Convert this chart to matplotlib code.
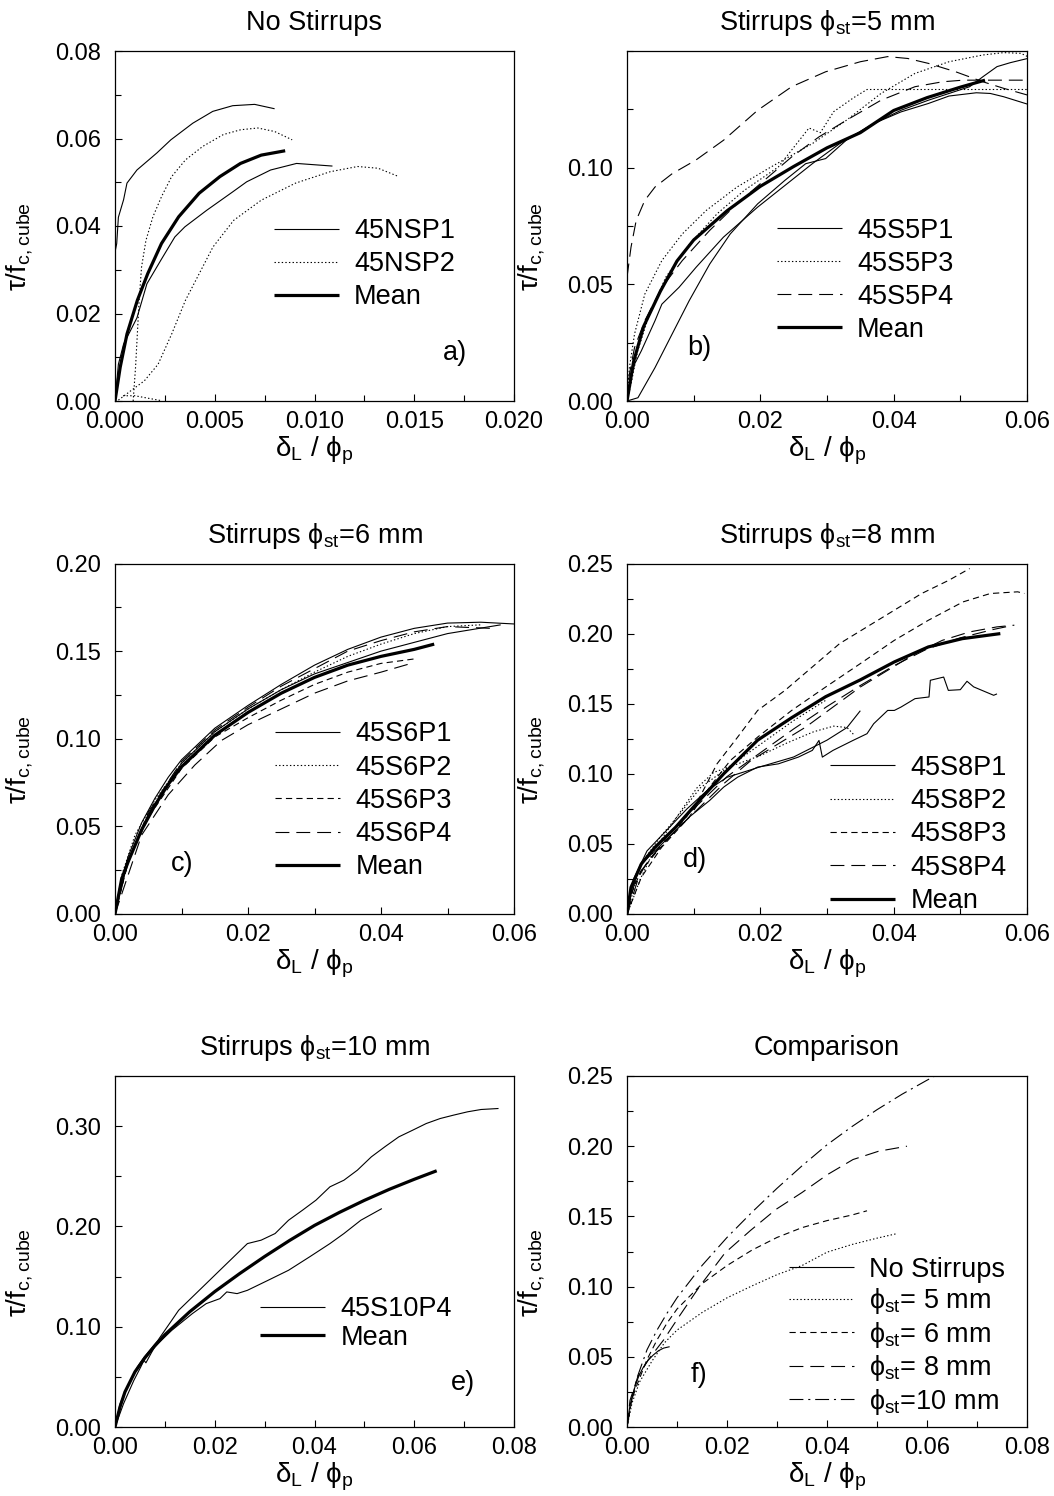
import matplotlib
matplotlib.use("Agg")
import matplotlib.pyplot as plt
from matplotlib.ticker import MultipleLocator, FormatStrFormatter, FixedLocator

plt.rcParams['font.family'] = ['Liberation Sans', 'DejaVu Sans']
plt.rcParams['lines.scale_dashes'] = False

# ---------------- Data ----------------
# a) No stirrups
a_p1a_x = [0.0, 0.000086, 0.00017, 0.00043, 0.0006, 0.0011, 0.0021, 0.0028, 0.0039, 0.0049, 0.0059, 0.0070, 0.0080]
a_p1a_y = [0.034, 0.036, 0.042, 0.046, 0.0498, 0.0528, 0.0567, 0.0597, 0.0635, 0.0662, 0.0675, 0.0678, 0.0668]
a_p1b_x = [0.0, 0.00017, 0.00043, 0.0011, 0.0016, 0.0023, 0.0030, 0.0035, 0.0046, 0.0059, 0.0066, 0.0078, 0.0091, 0.0109]
a_p1b_y = [0.0, 0.0084, 0.013, 0.019, 0.0268, 0.0322, 0.0375, 0.0398, 0.0436, 0.0478, 0.0501, 0.0528, 0.0543, 0.0537]
a_p2a_x = [0.00091, 0.00103, 0.00112, 0.00121, 0.00133, 0.00155, 0.0019, 0.00233, 0.00284, 0.00353, 0.0044, 0.00543, 0.0063, 0.00716, 0.0080, 0.00888]
a_p2a_y = [0.0, 0.0077, 0.0153, 0.0230, 0.0306, 0.0367, 0.0421, 0.0467, 0.0513, 0.0551, 0.0582, 0.0609, 0.0620, 0.0624, 0.0616, 0.0597]
a_p2b_x = [0.00017, 0.00078, 0.00147, 0.00216, 0.00284, 0.00353, 0.00422, 0.00491, 0.00595, 0.00733, 0.00905, 0.01078, 0.01216, 0.01319, 0.01422]
a_p2b_y = [0.0002, 0.0023, 0.0046, 0.0084, 0.0153, 0.0230, 0.0291, 0.0352, 0.0413, 0.0459, 0.0498, 0.0524, 0.0536, 0.0532, 0.0513]
a_p2c_x = [0.0004, 0.0010, 0.0017, 0.0023]
a_p2c_y = [0.0012, 0.0012, 0.0006, 0.0001]
a_mean_x = [0.0, 0.00026, 0.0006, 0.00112, 0.00164, 0.00233, 0.00319, 0.00422, 0.00526, 0.00629, 0.00733, 0.00853]
a_mean_y = [0.0, 0.0077, 0.0153, 0.0230, 0.0291, 0.0360, 0.0421, 0.0475, 0.0513, 0.0543, 0.0562, 0.0572]

# b) Stirrups 5 mm
b_p1a_x = [0, 0.00164, 0.0042, 0.00677, 0.00933, 0.01241, 0.01549, 0.0196, 0.0237, 0.0268, 0.0298, 0.0329, 0.0370, 0.0411, 0.0452, 0.0483, 0.0514, 0.0534, 0.0555, 0.0575, 0.0601]
b_p1a_y = [0, 0.0014, 0.0143, 0.0287, 0.0430, 0.0587, 0.0716, 0.0845, 0.0946, 0.1017, 0.1039, 0.1118, 0.1189, 0.1246, 0.1289, 0.1318, 0.1347, 0.1390, 0.1433, 0.1450, 0.1468]
b_p1b_x = [0, 0.00036, 0.00113, 0.00215, 0.0042, 0.00523, 0.0078, 0.01036, 0.01446, 0.0196, 0.0237, 0.0278, 0.0319, 0.0370, 0.0411, 0.0452, 0.0483, 0.0524, 0.0545, 0.0565, 0.0601]
b_p1b_y = [0, 0.0072, 0.0158, 0.0215, 0.0344, 0.0415, 0.0487, 0.0573, 0.0702, 0.0831, 0.0924, 0.1017, 0.1103, 0.1189, 0.1239, 0.1275, 0.1307, 0.1321, 0.1318, 0.1304, 0.1272]
b_p3a_x = [0, 0.00036, 0.00113, 0.00267, 0.00523, 0.0083, 0.0119, 0.0165, 0.0216, 0.0278, 0.0329, 0.0381, 0.0432, 0.0483, 0.0534, 0.0565, 0.0591, 0.0601]
b_p3a_y = [0, 0.0143, 0.0287, 0.0458, 0.0602, 0.0716, 0.0817, 0.0917, 0.1003, 0.1103, 0.1203, 0.1318, 0.1404, 0.1454, 0.1483, 0.1493, 0.1490, 0.1476]
b_p3b_x = [0, 0.0006, 0.0016, 0.0032, 0.0058, 0.0094, 0.0135, 0.0176, 0.0227, 0.0273, 0.0290, 0.0310, 0.0340, 0.0360, 0.0450, 0.0601]
b_p3b_y = [0, 0.0072, 0.0215, 0.0358, 0.0530, 0.0673, 0.0802, 0.0903, 0.1003, 0.1170, 0.1150, 0.1240, 0.1300, 0.1335, 0.1335, 0.1335]
b_p4a_x = [0, 0.0006, 0.00138, 0.00267, 0.0042, 0.00677, 0.0103, 0.0145, 0.0196, 0.0247, 0.0298, 0.0350, 0.0391, 0.0421, 0.0452, 0.0493, 0.0534, 0.0565, 0.0601]
b_p4a_y = [0.0530, 0.0659, 0.0774, 0.0860, 0.0917, 0.0974, 0.1032, 0.1118, 0.1246, 0.1347, 0.1411, 0.1454, 0.1476, 0.1468, 0.1447, 0.1411, 0.1368, 0.1340, 0.1311]
b_p4b_x = [0, 0.00036, 0.00113, 0.00267, 0.00523, 0.0083, 0.0124, 0.0165, 0.0206, 0.0247, 0.0288, 0.0329, 0.0381, 0.0432, 0.0473, 0.0504, 0.0601]
b_p4b_y = [0, 0.0115, 0.0229, 0.0344, 0.0487, 0.0602, 0.0731, 0.0845, 0.0946, 0.1046, 0.1132, 0.1203, 0.1289, 0.1347, 0.1368, 0.1375, 0.1375]
b_mean_x = [0, 0.001, 0.0025, 0.005, 0.0075, 0.010, 0.015, 0.020, 0.025, 0.030, 0.035, 0.040, 0.045, 0.050, 0.0537]
b_mean_y = [0, 0.017, 0.032, 0.047, 0.060, 0.069, 0.0815, 0.092, 0.1005, 0.1085, 0.1150, 0.1245, 0.1300, 0.1345, 0.1375]

# c) Stirrups 6 mm
c_p1a_x = [0, 0.001, 0.002, 0.004, 0.006, 0.008, 0.010, 0.015, 0.020, 0.025, 0.030, 0.035, 0.040, 0.045, 0.050, 0.055, 0.060]
c_p1a_y = [0, 0.020, 0.033, 0.052, 0.066, 0.078, 0.088, 0.106, 0.119, 0.131, 0.142, 0.151, 0.158, 0.163, 0.166, 0.1665, 0.1655]
c_p1b_x = [0, 0.002, 0.005, 0.010, 0.015, 0.020, 0.025, 0.030, 0.040, 0.050, 0.058]
c_p1b_y = [0, 0.031, 0.057, 0.086, 0.104, 0.117, 0.128, 0.137, 0.150, 0.160, 0.165]
c_p2_x = [0, 0.001, 0.003, 0.006, 0.010, 0.015, 0.020, 0.025, 0.030, 0.035, 0.040, 0.045, 0.050, 0.055]
c_p2_y = [0, 0.022, 0.045, 0.065, 0.086, 0.104, 0.117, 0.128, 0.138, 0.147, 0.154, 0.160, 0.164, 0.165]
c_p3_x = [0, 0.002, 0.005, 0.010, 0.015, 0.020, 0.025, 0.030, 0.035, 0.040, 0.0455]
c_p3_y = [0, 0.030, 0.055, 0.083, 0.101, 0.112, 0.122, 0.131, 0.138, 0.143, 0.1458]
c_p4a_x = [0, 0.002, 0.005, 0.010, 0.015, 0.020, 0.025, 0.030, 0.035, 0.040, 0.045, 0.050, 0.0565]
c_p4a_y = [0, 0.030, 0.058, 0.087, 0.105, 0.118, 0.130, 0.140, 0.150, 0.156, 0.161, 0.164, 0.163]
c_p4b_x = [0, 0.004, 0.008, 0.012, 0.016, 0.020, 0.025, 0.030, 0.035, 0.040, 0.045]
c_p4b_y = [0, 0.045, 0.068, 0.085, 0.099, 0.108, 0.117, 0.126, 0.133, 0.138, 0.1435]
c_mean_x = [0, 0.001, 0.002, 0.004, 0.006, 0.008, 0.010, 0.015, 0.020, 0.025, 0.030, 0.035, 0.040, 0.045, 0.048]
c_mean_y = [0, 0.020, 0.030, 0.048, 0.062, 0.074, 0.084, 0.102, 0.115, 0.126, 0.135, 0.142, 0.147, 0.151, 0.154]

# d) Stirrups 8 mm
d_p1a_x = [0, 0.0006, 0.00215, 0.0042, 0.0068, 0.0093, 0.0124, 0.0145, 0.0166, 0.0196, 0.0227, 0.0257, 0.0278, 0.0288, 0.0293, 0.0309, 0.0339, 0.0360, 0.0370, 0.0391, 0.0401, 0.0411, 0.0432, 0.0453, 0.0455, 0.0475, 0.0482, 0.0500, 0.0510, 0.0520, 0.0530, 0.0550, 0.0555]
d_p1a_y = [0, 0.0167, 0.0357, 0.0452, 0.0571, 0.0690, 0.0810, 0.0905, 0.0976, 0.1048, 0.1071, 0.1119, 0.1167, 0.1238, 0.1119, 0.1167, 0.1238, 0.1286, 0.1357, 0.1452, 0.1452, 0.1476, 0.1536, 0.1548, 0.1667, 0.1690, 0.1595, 0.1600, 0.1660, 0.1620, 0.1600, 0.1560, 0.1570]
d_p1b_x = [0, 0.001, 0.003, 0.006, 0.009, 0.012, 0.015, 0.020, 0.025, 0.030, 0.033, 0.035]
d_p1b_y = [0, 0.025, 0.045, 0.060, 0.075, 0.088, 0.0975, 0.105, 0.112, 0.124, 0.133, 0.145]
d_p2a_x = [0, 0.0006, 0.002, 0.004, 0.007, 0.0105, 0.013, 0.016, 0.020, 0.024, 0.028, 0.031, 0.033, 0.034]
d_p2a_y = [0, 0.007, 0.025, 0.045, 0.066, 0.090, 0.101, 0.106, 0.113, 0.122, 0.130, 0.134, 0.133, 0.128]
d_p2b_x = [0, 0.002, 0.005, 0.008, 0.011, 0.015, 0.020, 0.025, 0.030]
d_p2b_y = [0, 0.035, 0.055, 0.072, 0.090, 0.104, 0.121, 0.138, 0.153]
d_p3a_x = [0, 0.0006, 0.00215, 0.0042, 0.0073, 0.0104, 0.0135, 0.0166, 0.0196, 0.0237, 0.0278, 0.0319, 0.0360, 0.0401, 0.0442, 0.0483, 0.0514]
d_p3a_y = [0, 0.0143, 0.031, 0.0429, 0.0595, 0.0786, 0.1071, 0.1262, 0.1452, 0.1595, 0.1762, 0.1929, 0.2048, 0.2167, 0.2286, 0.2381, 0.2464]
d_p3b_x = [0, 0.00215, 0.0052, 0.0093, 0.0124, 0.0155, 0.0196, 0.0247, 0.0298, 0.0350, 0.0401, 0.0452, 0.0504, 0.0545, 0.0586, 0.0596]
d_p3b_y = [0, 0.0262, 0.0476, 0.0690, 0.0905, 0.1095, 0.1262, 0.1452, 0.1619, 0.1786, 0.1952, 0.2095, 0.2226, 0.2286, 0.2298, 0.2286]
d_p4a_x = [0, 0.0011, 0.0032, 0.0063, 0.0104, 0.0145, 0.0186, 0.0227, 0.0268, 0.0309, 0.0350, 0.0391, 0.0432, 0.0473, 0.0514, 0.0555, 0.0581]
d_p4a_y = [0, 0.0214, 0.0381, 0.0548, 0.0738, 0.0929, 0.1095, 0.1214, 0.1333, 0.1476, 0.1619, 0.1738, 0.1857, 0.1952, 0.2012, 0.2048, 0.2060]
d_p4b_x = [0, 0.002, 0.006, 0.010, 0.015, 0.020, 0.025, 0.030, 0.035, 0.040, 0.045, 0.050, 0.055, 0.057]
d_p4b_y = [0, 0.030, 0.055, 0.075, 0.098, 0.115, 0.132, 0.148, 0.163, 0.177, 0.189, 0.197, 0.203, 0.205]
d_mean_x = [0, 0.0006, 0.00215, 0.0042, 0.0073, 0.0104, 0.0145, 0.0196, 0.0247, 0.0298, 0.035, 0.0401, 0.0452, 0.0503, 0.0560]
d_mean_y = [0, 0.019, 0.0357, 0.0476, 0.0619, 0.0786, 0.1000, 0.124, 0.140, 0.155, 0.167, 0.1798, 0.1905, 0.1964, 0.2000]

# e) Stirrups 10 mm
e_p4a_x = [0, 0.00103, 0.00241, 0.00448, 0.00586, 0.00862, 0.01138, 0.01276, 0.01552, 0.01828, 0.02103, 0.02379, 0.02655, 0.0293, 0.0321, 0.0348, 0.0376, 0.0403, 0.0431, 0.0459, 0.0486, 0.0514, 0.0541, 0.0569, 0.0597, 0.0624, 0.0652, 0.0679, 0.0707, 0.0734, 0.0769]
e_p4a_y = [0, 0.0233, 0.0399, 0.0599, 0.0698, 0.0865, 0.1064, 0.1164, 0.1297, 0.1430, 0.1563, 0.1696, 0.1829, 0.1863, 0.1929, 0.2062, 0.2162, 0.2262, 0.2395, 0.2461, 0.2561, 0.2694, 0.2794, 0.2893, 0.2960, 0.3026, 0.3076, 0.3110, 0.3143, 0.3166, 0.3176]
e_p4b_x = [0, 0.00172, 0.00379, 0.00517, 0.0058, 0.0062, 0.00793, 0.01138, 0.01552, 0.01828, 0.02103, 0.02241, 0.02448, 0.02655, 0.0307, 0.0348, 0.0390, 0.0431, 0.0459, 0.0493, 0.0535]
e_p4b_y = [0, 0.0233, 0.0466, 0.0599, 0.0665, 0.0640, 0.0798, 0.0964, 0.1131, 0.1230, 0.1280, 0.1347, 0.1330, 0.1363, 0.1463, 0.1563, 0.1696, 0.1829, 0.1929, 0.2062, 0.2178]
e_mean_x = [0, 0.001, 0.002, 0.004, 0.006, 0.008, 0.010, 0.015, 0.020, 0.025, 0.030, 0.035, 0.040, 0.045, 0.050, 0.055, 0.060, 0.0645]
e_mean_y = [0, 0.020, 0.035, 0.055, 0.069, 0.081, 0.092, 0.115, 0.135, 0.153, 0.170, 0.186, 0.201, 0.214, 0.226, 0.237, 0.247, 0.2555]

titles = ['No Stirrups', 'Stirrups ϕ$_{\\mathregular{st}}$=5 mm', 'Stirrups ϕ$_{\\mathregular{st}}$=6 mm',
          'Stirrups ϕ$_{\\mathregular{st}}$=8 mm', 'Stirrups ϕ$_{\\mathregular{st}}$=10 mm', 'Comparison']
panel_letters = ['a)', 'b)', 'c)', 'd)', 'e)', 'f)']
comparison_labels = ['No Stirrups', 'ϕ$_{\\mathregular{st}}$= 5 mm', 'ϕ$_{\\mathregular{st}}$= 6 mm',
                     'ϕ$_{\\mathregular{st}}$= 8 mm', 'ϕ$_{\\mathregular{st}}$=10 mm']

# ---------------- Styles ----------------
SOLID = '-'
DOT = (0, (1.0, 1.6))
DASH = (0, (4.5, 3.0))
LDASH = (0, (10, 5))
DASHDOT = (0, (10, 3.5, 1.5, 3.5))
THIN = 0.8
THICK = 2.3
FS = 19.5
TICKFS = 17
LABFS = 20

fig = plt.figure(figsize=(10.54, 14.96), dpi=100)
W, H = 1054, 1496
lefts = [115, 627]
rows = [(51, 401), (563.5, 914), (1076, 1427)]
axes = []
for r, (top, bot) in enumerate(rows):
    for c in range(2):
        l = lefts[c]
        w = 399 if c == 0 else 400
        ax = fig.add_axes([l / W, 1 - bot / H, w / W, (bot - top) / H])
        axes.append(ax)


def line(ax, x, y, ls, lw=THIN, label=None):
    ax.plot(x, y, color='black', linestyle=ls, linewidth=lw, label=label,
            solid_capstyle='butt', dash_capstyle='butt')


ax = axes[0]
line(ax, a_p1a_x, a_p1a_y, SOLID, label='45NSP1')
line(ax, a_p1b_x, a_p1b_y, SOLID)
line(ax, a_p2a_x, a_p2a_y, DOT, label='45NSP2')
line(ax, a_p2b_x, a_p2b_y, DOT)
line(ax, a_p2c_x, a_p2c_y, DOT)
line(ax, a_mean_x, a_mean_y, SOLID, THICK, 'Mean')

ax = axes[1]
line(ax, b_p1a_x, b_p1a_y, SOLID, label='45S5P1')
line(ax, b_p1b_x, b_p1b_y, SOLID)
line(ax, b_p3a_x, b_p3a_y, DOT, label='45S5P3')
line(ax, b_p3b_x, b_p3b_y, DOT)
line(ax, b_p4a_x, b_p4a_y, LDASH, label='45S5P4')
line(ax, b_p4b_x, b_p4b_y, LDASH)
line(ax, b_mean_x, b_mean_y, SOLID, THICK, 'Mean')

ax = axes[2]
line(ax, c_p1a_x, c_p1a_y, SOLID, label='45S6P1')
line(ax, c_p1b_x, c_p1b_y, SOLID)
line(ax, c_p2_x, c_p2_y, DOT, label='45S6P2')
line(ax, c_p3_x, c_p3_y, DASH, label='45S6P3')
line(ax, c_p4a_x, c_p4a_y, LDASH, label='45S6P4')
line(ax, c_p4b_x, c_p4b_y, LDASH)
line(ax, c_mean_x, c_mean_y, SOLID, THICK, 'Mean')

ax = axes[3]
line(ax, d_p1a_x, d_p1a_y, SOLID, label='45S8P1')
line(ax, d_p1b_x, d_p1b_y, SOLID)
line(ax, d_p2a_x, d_p2a_y, DOT, label='45S8P2')
line(ax, d_p2b_x, d_p2b_y, DOT)
line(ax, d_p3a_x, d_p3a_y, DASH, label='45S8P3')
line(ax, d_p3b_x, d_p3b_y, DASH)
line(ax, d_p4a_x, d_p4a_y, LDASH, label='45S8P4')
line(ax, d_p4b_x, d_p4b_y, LDASH)
line(ax, d_mean_x, d_mean_y, SOLID, THICK, 'Mean')

ax = axes[4]
line(ax, e_p4a_x, e_p4a_y, SOLID, label='45S10P4')
line(ax, e_p4b_x, e_p4b_y, SOLID)
line(ax, e_mean_x, e_mean_y, SOLID, THICK, 'Mean')

ax = axes[5]
line(ax, a_mean_x, a_mean_y, SOLID, label=comparison_labels[0])
line(ax, b_mean_x, b_mean_y, DOT, label=comparison_labels[1])
line(ax, c_mean_x, c_mean_y, DASH, label=comparison_labels[2])
line(ax, d_mean_x, d_mean_y, LDASH, label=comparison_labels[3])
line(ax, e_mean_x, e_mean_y, DASHDOT, label=comparison_labels[4])

# axis setup: (xmax, xmaj, xmin, xfmt, ymax, ymaj, ymin, highest labelled y tick)
cfg = [
    (0.02, 0.005, 0.0025, '%.3f', 0.08, 0.02, 0.01, 0.08),
    (0.06, 0.02, 0.01, '%.2f', 0.15, 0.05, 0.025, 0.10),
    (0.06, 0.02, 0.01, '%.2f', 0.20, 0.05, 0.025, 0.20),
    (0.06, 0.02, 0.01, '%.2f', 0.25, 0.05, 0.025, 0.25),
    (0.08, 0.02, 0.01, '%.2f', 0.35, 0.10, 0.05, 0.30),
    (0.08, 0.02, 0.01, '%.2f', 0.25, 0.05, 0.025, 0.25),
]
legend_pos = [(0.398, 0.522), (0.374, 0.524), (0.402, 0.550), (0.5075, 0.454), (0.363, 0.373), (0.404, 0.485)]
legend_spacing = [0.26, 0.26, 0.27, 0.27, 0.09, 0.13]
letter_pos = [(0.851, 0.137), (0.18, 0.151), (0.169, 0.143), (0.171, 0.153), (0.872, 0.125), (0.18, 0.148)]

for i, ax in enumerate(axes):
    xmax, xmaj, xmin, xfmt, ymax, ymaj, ymin, ytop = cfg[i]
    ax.set_xlim(0, xmax)
    ax.set_ylim(0, ymax)
    n = int(round(xmax / xmaj))
    ax.xaxis.set_major_locator(FixedLocator([k * xmaj for k in range(n + 1)]))
    ax.xaxis.set_minor_locator(MultipleLocator(xmin))
    ax.xaxis.set_major_formatter(FormatStrFormatter(xfmt))
    m = int(round(ytop / ymaj))
    ax.yaxis.set_major_locator(FixedLocator([k * ymaj for k in range(m + 1)]))
    ax.yaxis.set_minor_locator(MultipleLocator(ymin))
    ax.yaxis.set_major_formatter(FormatStrFormatter('%.2f'))
    ax.tick_params(which='both', direction='in', top=False, right=False, width=0.8, color='black')
    ax.tick_params(which='major', length=5, labelsize=TICKFS)
    ax.tick_params(axis='y', which='major', pad=10)
    ax.tick_params(axis='x', which='major', pad=7)
    ax.tick_params(which='minor', length=4.5)
    for s in ax.spines.values():
        s.set_linewidth(0.9)
    ax.set_title(titles[i], fontsize=FS, pad=15)
    ax.set_xlabel('δ$_{\\mathregular{L}}$ / ϕ$_{\\mathregular{p}}$', fontsize=LABFS, labelpad=1)
    ax.set_ylabel('τ/f$_{\\mathregular{c,cube}}$', fontsize=LABFS)
    ax.yaxis.set_label_coords(-0.198, 0.44)
    lx, ly = legend_pos[i]
    ax.legend(loc='upper left', bbox_to_anchor=(lx, ly), frameon=False, fontsize=FS,
              borderpad=0, borderaxespad=0, handlelength=2.4, handletextpad=0.57,
              labelspacing=legend_spacing[i])
    tx, ty = letter_pos[i]
    ax.text(tx, ty, panel_letters[i], transform=ax.transAxes, fontsize=FS, ha='center', va='center')

fig.savefig('out.png', dpi=100)
